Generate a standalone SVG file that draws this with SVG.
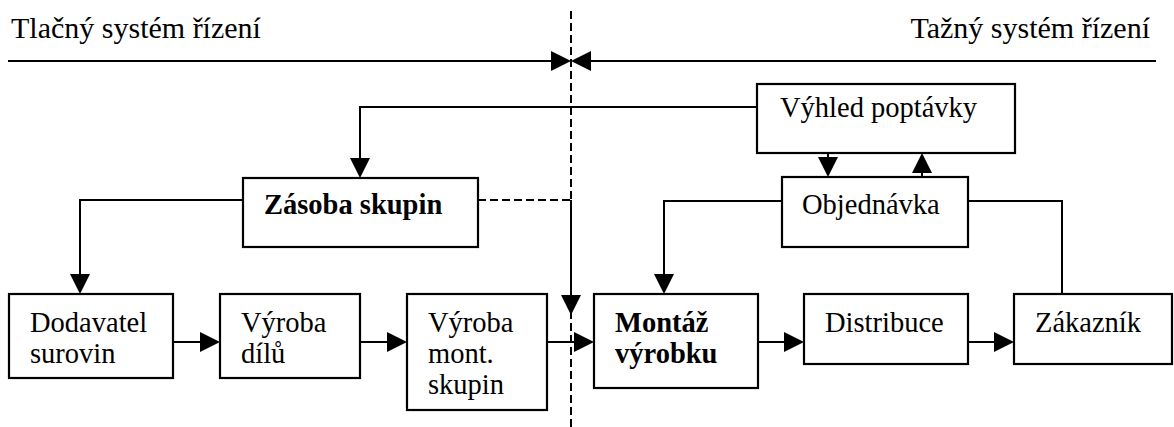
<svg xmlns="http://www.w3.org/2000/svg" width="1174" height="427" viewBox="0 0 1174 427">
  <style>
    .box { fill: #ffffff; stroke: #000000; stroke-width: 2.2; }
    .lbl { font-family: 'Liberation Serif', 'DejaVu Serif', serif; font-size: 28.5px; fill: #000000; }
    .b { font-weight: bold; }
    .title { font-family: 'Liberation Serif', 'DejaVu Serif', serif; font-size: 30px; fill: #000000; }
    .ln { fill: none; stroke: #000000; stroke-width: 2; }
    .arr { marker-end: url(#head); }
    .dash { fill: none; stroke: #000000; stroke-width: 2; stroke-dasharray: 8 4; }
  </style>
  <defs>
    <marker id="head" viewBox="0 0 20 20" refX="18" refY="10" markerWidth="20" markerHeight="20" markerUnits="userSpaceOnUse" orient="auto">
      <path d="M0,0 L20,10 L0,20 z" fill="#000000"/>
    </marker>
  </defs>

  <rect width="1174" height="427" fill="#ffffff"/>

  <!-- section headings -->
  <text class="title" x="11" y="38">Tlačný systém řízení</text>
  <text class="title" x="1150" y="38" text-anchor="end">Tažný systém řízení</text>

  <!-- connectors -->
  <g id="connectors">
    <!-- push / pull boundary -->
    <line class="dash" x1="571" y1="11" x2="571" y2="427"/>
    <line class="ln arr" x1="8" y1="61" x2="569" y2="61"/>
    <line class="ln arr" x1="1156" y1="61" x2="573" y2="61"/>

    <!-- forecast to group stock -->
    <polyline class="ln arr" points="757,107 360,107 360,176"/>
    <!-- group stock to supplier -->
    <polyline class="ln arr" points="243,200 80,200 80,292"/>
    <!-- group stock to assembly -->
    <line class="dash" x1="478" y1="200" x2="571" y2="200"/>
    <line class="ln arr" x1="571" y1="200" x2="571" y2="313"/>

    <!-- material flow -->
    <line class="ln arr" x1="173" y1="342" x2="218" y2="342"/>
    <line class="ln arr" x1="360" y1="342" x2="405" y2="342"/>
    <line class="ln arr" x1="547" y1="342" x2="592" y2="342"/>
    <line class="ln arr" x1="758" y1="342" x2="802" y2="342"/>
    <line class="ln arr" x1="968" y1="342" x2="1012" y2="342"/>

    <!-- order loop -->
    <polyline class="ln arr" points="782,201 664,201 664,292"/>
    <polyline class="ln" points="968,201 1062,201 1062,294"/>
    <line class="ln arr" x1="828" y1="153" x2="828" y2="175"/>
    <line class="ln arr" x1="922" y1="177" x2="922" y2="155"/>
  </g>

  <g id="vyhled-poptavky">
    <rect class="box" x="757" y="84" width="258" height="69"/>
    <text class="lbl" x="780" y="117">Výhled poptávky</text>
  </g>

  <g id="zasoba-skupin">
    <rect class="box" x="243" y="178" width="235" height="69"/>
    <text class="lbl b" x="264" y="214">Zásoba skupin</text>
  </g>

  <g id="objednavka">
    <rect class="box" x="782" y="177" width="186" height="70"/>
    <text class="lbl" x="802" y="214">Objednávka</text>
  </g>

  <g id="dodavatel-surovin">
    <rect class="box" x="9" y="294" width="164" height="84"/>
    <text class="lbl" x="30" y="332">Dodavatel</text>
    <text class="lbl" x="30" y="363">surovin</text>
  </g>

  <g id="vyroba-dilu">
    <rect class="box" x="220" y="294" width="140" height="84"/>
    <text class="lbl" x="241" y="332">Výroba</text>
    <text class="lbl" x="241" y="363">dílů</text>
  </g>

  <g id="vyroba-mont-skupin">
    <rect class="box" x="407" y="294" width="140" height="116"/>
    <text class="lbl" x="428" y="332">Výroba</text>
    <text class="lbl" x="428" y="363">mont.</text>
    <text class="lbl" x="428" y="394">skupin</text>
  </g>

  <g id="montaz-vyrobku">
    <rect class="box" x="594" y="294" width="164" height="94"/>
    <text class="lbl b" x="615" y="332">Montáž</text>
    <text class="lbl b" x="615" y="363">výrobku</text>
  </g>

  <g id="distribuce">
    <rect class="box" x="804" y="294" width="164" height="70"/>
    <text class="lbl" x="825" y="332">Distribuce</text>
  </g>

  <g id="zakaznik">
    <rect class="box" x="1014" y="294" width="158" height="70"/>
    <text class="lbl" x="1035" y="332">Zákazník</text>
  </g>
</svg>
